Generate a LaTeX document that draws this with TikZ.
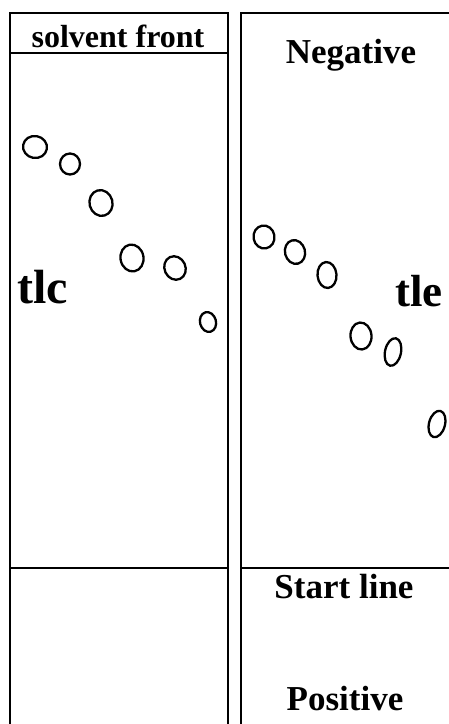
\documentclass[tikz,border=0pt]{standalone}
\usepackage{fontspec}
\setmainfont{Liberation Serif}
\usetikzlibrary{shapes.geometric}
\begin{document}
\begin{tikzpicture}[x=1pt,y=-1pt,
  frame/.style={line width=2.5pt},
  spot/.style={ellipse,draw,line width=2.3pt,inner sep=0pt},
  lbl/.style={font=\bfseries,anchor=base,inner sep=0pt}]
\useasboundingbox (0,0) rectangle (449,724);
% left plate
\draw[frame] (10,724) -- (10,13) -- (228,13) -- (228,724);
\draw[frame] (10,53) -- (228,53);
\draw[frame] (10,568) -- (228,568);
% right plate
\draw[frame] (241,724) -- (241,13) -- (449,13);
\draw[frame] (241,568) -- (449,568);
% labels
\node[lbl,font=\bfseries\fontsize{32}{32}\selectfont] (sf) at (118,47) {solvent front};
\node[lbl,font=\bfseries\fontsize{35}{35}\selectfont] (neg) at (351,63) {Negative};
\node[lbl,font=\bfseries\fontsize{35}{35}\selectfont] (st) at (344,598) {Start line};
\node[lbl,font=\bfseries\fontsize{35}{35}\selectfont] (pos) at (345,710) {Positive};
\node[lbl,font=\bfseries\fontsize{48}{48}\selectfont] (tlc) at (42.5,303) {tlc};
\node[lbl,font=\bfseries\fontsize{45}{45}\selectfont] (tle) at (419,306) {tle};
% left spots
\node[spot,minimum width=24pt,minimum height=22pt,rotate=-10] (a1) at (35,147) {};
\node[spot,minimum width=20pt,minimum height=21pt] (a2) at (70,164) {};
\node[spot,minimum width=23pt,minimum height=26pt,rotate=15] (a3) at (101,203) {};
\node[spot,minimum width=23pt,minimum height=27pt,rotate=10] (a4) at (132,258) {};
\node[spot,minimum width=21pt,minimum height=24pt,rotate=25] (a5) at (175,268) {};
\node[spot,minimum width=16pt,minimum height=20pt,rotate=15] (a6) at (208,322) {};
% right spots
\node[spot,minimum width=21pt,minimum height=23pt,rotate=10] (b1) at (264,237) {};
\node[spot,minimum width=20pt,minimum height=24pt,rotate=15] (b2) at (295,252) {};
\node[spot,minimum width=19pt,minimum height=26pt,rotate=5] (b3) at (327,275) {};
\node[spot,minimum width=21pt,minimum height=27pt,rotate=5] (b4) at (361,336) {};
\node[spot,minimum width=16pt,minimum height=28pt,rotate=-12] (b5) at (393,352) {};
\node[spot,minimum width=16pt,minimum height=27pt,rotate=-15] (b6) at (437,424) {};
\end{tikzpicture}
\end{document}
